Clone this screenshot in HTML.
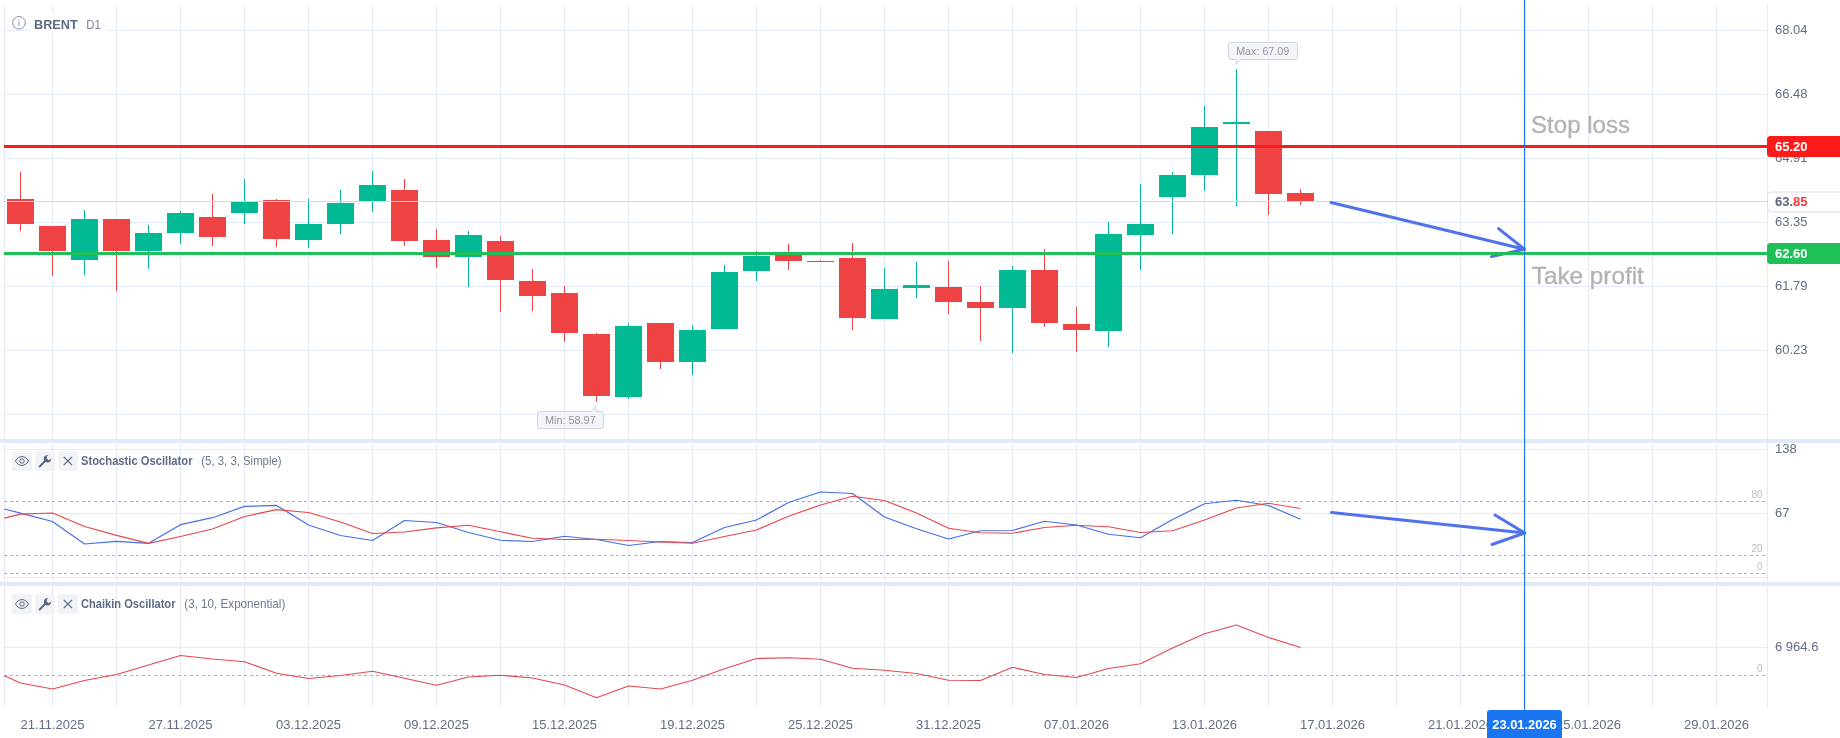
<!DOCTYPE html>
<html lang="en"><head><meta charset="utf-8"><title>BRENT D1</title>
<style>html,body{margin:0;padding:0;background:#fff;overflow:hidden}svg{display:block;will-change:transform}</style></head>
<body>
<svg width="1840" height="738" viewBox="0 0 1840 738" font-family='"Liberation Sans", Arial, sans-serif'>
<rect width="1840" height="738" fill="#fff"/>
<g fill="#e3ebfb">
<rect x="4" y="5" width="1" height="703"/>
<rect x="52" y="5" width="1" height="703"/>
<rect x="116" y="5" width="1" height="703"/>
<rect x="180" y="5" width="1" height="703"/>
<rect x="244" y="5" width="1" height="703"/>
<rect x="308" y="5" width="1" height="703"/>
<rect x="372" y="5" width="1" height="703"/>
<rect x="436" y="5" width="1" height="703"/>
<rect x="500" y="5" width="1" height="703"/>
<rect x="564" y="5" width="1" height="703"/>
<rect x="628" y="5" width="1" height="703"/>
<rect x="692" y="5" width="1" height="703"/>
<rect x="756" y="5" width="1" height="703"/>
<rect x="820" y="5" width="1" height="703"/>
<rect x="884" y="5" width="1" height="703"/>
<rect x="948" y="5" width="1" height="703"/>
<rect x="1012" y="5" width="1" height="703"/>
<rect x="1076" y="5" width="1" height="703"/>
<rect x="1140" y="5" width="1" height="703"/>
<rect x="1204" y="5" width="1" height="703"/>
<rect x="1268" y="5" width="1" height="703"/>
<rect x="1332" y="5" width="1" height="703"/>
<rect x="1396" y="5" width="1" height="703"/>
<rect x="1460" y="5" width="1" height="703"/>
<rect x="1524" y="5" width="1" height="703"/>
<rect x="1588" y="5" width="1" height="703"/>
<rect x="1652" y="5" width="1" height="703"/>
<rect x="1716" y="5" width="1" height="703"/>
<rect x="1767" y="5" width="1" height="703"/>
<rect x="4" y="30" width="1763" height="1"/>
<rect x="4" y="94" width="1763" height="1"/>
<rect x="4" y="158" width="1763" height="1"/>
<rect x="4" y="222" width="1763" height="1"/>
<rect x="4" y="286" width="1763" height="1"/>
<rect x="4" y="350" width="1763" height="1"/>
<rect x="4" y="414" width="1763" height="1"/>
<rect x="4" y="449" width="1763" height="1"/>
<rect x="4" y="513" width="1763" height="1"/>
<rect x="4" y="577" width="1763" height="1"/>
<rect x="4" y="647" width="1763" height="1"/>
</g>
<rect x="30" y="13" width="77" height="20" fill="#fff" opacity="0.92"/>
<rect x="0" y="439" width="1840" height="4" fill="#e1eaf9"/>
<rect x="0" y="582" width="1840" height="4" fill="#e1eaf9"/>
<g fill="#616d83" font-size="13">
<text x="1775" y="34.1">68.04</text>
<text x="1775" y="98.1">66.48</text>
<text x="1775" y="162.1">64.91</text>
<text x="1775" y="226.1">63.35</text>
<text x="1775" y="290.1">61.79</text>
<text x="1775" y="354.1">60.23</text>
<text x="1775" y="453.1">138</text>
<text x="1775" y="517.1">67</text>
<text x="1775" y="651.1">6 964.6</text>
</g>
<g fill="#616d83" font-size="13" text-anchor="middle">
<text x="52.5" y="729">21.11.2025</text>
<text x="180.5" y="729">27.11.2025</text>
<text x="308.5" y="729">03.12.2025</text>
<text x="436.5" y="729">09.12.2025</text>
<text x="564.5" y="729">15.12.2025</text>
<text x="692.5" y="729">19.12.2025</text>
<text x="820.5" y="729">25.12.2025</text>
<text x="948.5" y="729">31.12.2025</text>
<text x="1076.5" y="729">07.01.2026</text>
<text x="1204.5" y="729">13.01.2026</text>
<text x="1332.5" y="729">17.01.2026</text>
<text x="1460.5" y="729">21.01.2026</text>
<text x="1588.5" y="729">25.01.2026</text>
<text x="1716.5" y="729">29.01.2026</text>
</g>
<g stroke="#adadad" stroke-width="1" stroke-dasharray="3 3" fill="none">
<path d="M4 501.5H1765"/>
<path d="M4 555.5H1765"/>
<path d="M4 573.5H1765"/>
<path d="M4 675.5H1765"/>
</g>
<g fill="#b9bdc9" font-size="10" text-anchor="end">
<text x="1762.5" y="498.20000000000005">80</text>
<text x="1762.5" y="552.2">20</text>
<text x="1762.5" y="570.2">0</text>
<text x="1762.5" y="672.0">0</text>
</g>
<g>
<rect x="20.0" y="172" width="1" height="59" fill="#ef4343"/>
<rect x="7.0" y="199" width="27" height="25" fill="#ef4343"/>
<rect x="52.0" y="226" width="1" height="50" fill="#ef4343"/>
<rect x="39.0" y="226" width="27" height="25" fill="#ef4343"/>
<rect x="84.0" y="210" width="1" height="65" fill="#00ba95"/>
<rect x="71.0" y="219" width="27" height="41" fill="#00ba95"/>
<rect x="116.0" y="219" width="1" height="72" fill="#ef4343"/>
<rect x="103.0" y="219" width="27" height="32" fill="#ef4343"/>
<rect x="148.0" y="225" width="1" height="44" fill="#00ba95"/>
<rect x="135.0" y="233" width="27" height="18" fill="#00ba95"/>
<rect x="180.0" y="211" width="1" height="33" fill="#00ba95"/>
<rect x="167.0" y="213" width="27" height="20" fill="#00ba95"/>
<rect x="212.0" y="194" width="1" height="52" fill="#ef4343"/>
<rect x="199.0" y="217" width="27" height="20" fill="#ef4343"/>
<rect x="244.0" y="179" width="1" height="45" fill="#00ba95"/>
<rect x="231.0" y="202" width="27" height="11" fill="#00ba95"/>
<rect x="276.0" y="199" width="1" height="48" fill="#ef4343"/>
<rect x="263.0" y="200" width="27" height="39" fill="#ef4343"/>
<rect x="308.0" y="199" width="1" height="49" fill="#00ba95"/>
<rect x="295.0" y="224" width="27" height="16" fill="#00ba95"/>
<rect x="340.0" y="190" width="1" height="44" fill="#00ba95"/>
<rect x="327.0" y="203" width="27" height="21" fill="#00ba95"/>
<rect x="372.0" y="171" width="1" height="41" fill="#00ba95"/>
<rect x="359.0" y="185" width="27" height="16" fill="#00ba95"/>
<rect x="404.0" y="179" width="1" height="67" fill="#ef4343"/>
<rect x="391.0" y="190" width="27" height="51" fill="#ef4343"/>
<rect x="436.0" y="229" width="1" height="39" fill="#ef4343"/>
<rect x="423.0" y="240" width="27" height="17" fill="#ef4343"/>
<rect x="468.0" y="231" width="1" height="56" fill="#00ba95"/>
<rect x="455.0" y="235" width="27" height="22" fill="#00ba95"/>
<rect x="500.0" y="236" width="1" height="76" fill="#ef4343"/>
<rect x="487.0" y="241" width="27" height="39" fill="#ef4343"/>
<rect x="532.0" y="269" width="1" height="42" fill="#ef4343"/>
<rect x="519.0" y="281" width="27" height="15" fill="#ef4343"/>
<rect x="564.0" y="286" width="1" height="56" fill="#ef4343"/>
<rect x="551.0" y="293" width="27" height="40" fill="#ef4343"/>
<rect x="596.0" y="333" width="1" height="69" fill="#ef4343"/>
<rect x="583.0" y="334" width="27" height="62" fill="#ef4343"/>
<rect x="628.0" y="323" width="1" height="76" fill="#00ba95"/>
<rect x="615.0" y="326" width="27" height="71" fill="#00ba95"/>
<rect x="660.0" y="323" width="1" height="46" fill="#ef4343"/>
<rect x="647.0" y="323" width="27" height="39" fill="#ef4343"/>
<rect x="692.0" y="325" width="1" height="50" fill="#00ba95"/>
<rect x="679.0" y="330" width="27" height="32" fill="#00ba95"/>
<rect x="724.0" y="265" width="1" height="64" fill="#00ba95"/>
<rect x="711.0" y="272" width="27" height="57" fill="#00ba95"/>
<rect x="756.0" y="251" width="1" height="30" fill="#00ba95"/>
<rect x="743.0" y="256" width="27" height="15" fill="#00ba95"/>
<rect x="788.0" y="244" width="1" height="26" fill="#ef4343"/>
<rect x="775.0" y="253" width="27" height="8" fill="#ef4343"/>
<rect x="820.0" y="260" width="1" height="2" fill="#ef4343"/>
<rect x="807.0" y="261" width="27" height="1" fill="#ef4343"/>
<rect x="852.0" y="243" width="1" height="87" fill="#ef4343"/>
<rect x="839.0" y="258" width="27" height="60" fill="#ef4343"/>
<rect x="884.0" y="268" width="1" height="51" fill="#00ba95"/>
<rect x="871.0" y="289" width="27" height="30" fill="#00ba95"/>
<rect x="916.0" y="262" width="1" height="36" fill="#00ba95"/>
<rect x="903.0" y="285" width="27" height="3" fill="#00ba95"/>
<rect x="948.0" y="261" width="1" height="53" fill="#ef4343"/>
<rect x="935.0" y="287" width="27" height="15" fill="#ef4343"/>
<rect x="980.0" y="286" width="1" height="55" fill="#ef4343"/>
<rect x="967.0" y="302" width="27" height="6" fill="#ef4343"/>
<rect x="1012.0" y="266" width="1" height="87" fill="#00ba95"/>
<rect x="999.0" y="270" width="27" height="38" fill="#00ba95"/>
<rect x="1044.0" y="249" width="1" height="78" fill="#ef4343"/>
<rect x="1031.0" y="270" width="27" height="53" fill="#ef4343"/>
<rect x="1076.0" y="307" width="1" height="45" fill="#ef4343"/>
<rect x="1063.0" y="324" width="27" height="6" fill="#ef4343"/>
<rect x="1108.0" y="222" width="1" height="125" fill="#00ba95"/>
<rect x="1095.0" y="234" width="27" height="97" fill="#00ba95"/>
<rect x="1140.0" y="184" width="1" height="86" fill="#00ba95"/>
<rect x="1127.0" y="224" width="27" height="11" fill="#00ba95"/>
<rect x="1172.0" y="172" width="1" height="62" fill="#00ba95"/>
<rect x="1159.0" y="175" width="27" height="22" fill="#00ba95"/>
<rect x="1204.0" y="106" width="1" height="85" fill="#00ba95"/>
<rect x="1191.0" y="127" width="27" height="48" fill="#00ba95"/>
<rect x="1236.0" y="69" width="1" height="137" fill="#00ba95"/>
<rect x="1223.0" y="122" width="27" height="2" fill="#00ba95"/>
<rect x="1268.0" y="131" width="1" height="84" fill="#ef4343"/>
<rect x="1255.0" y="131" width="27" height="63" fill="#ef4343"/>
<rect x="1300.0" y="189" width="1" height="16" fill="#ef4343"/>
<rect x="1287.0" y="193" width="27" height="8" fill="#ef4343"/>
</g>
<rect x="4" y="201" width="1763" height="1" fill="#d3d8e4"/>
<g stroke="#5272ea" stroke-width="3" fill="none" stroke-linecap="round" stroke-linejoin="round">
<path d="M1331 202.5L1524.5 249.2M1498.5 228.6L1524.5 249.2L1491.5 256.6"/>
<path d="M1331.5 512.6L1524.8 533M1495 515L1524.8 533L1492 544.5"/>
</g>
<rect x="4" y="145" width="1765" height="3" fill="#fd1a1a"/>
<rect x="4" y="252" width="1765" height="3" fill="#1fc057"/>
<polyline points="4.3,509 20.5,513.2 52.5,521.5 84.5,544 116.5,541.3 148.5,543.3 180.5,524.7 212.5,517.7 244.5,506.4 276.5,505.4 308.5,525 340.5,535.5 372.5,540.5 404.5,520.5 436.5,522.5 468.5,532.5 500.5,540.25 532.5,541.5 564.5,536.25 596.5,539.5 628.5,545.5 660.5,541.5 692.5,542.5 724.5,527.5 756.5,520 788.5,502.5 820.5,492 852.5,493.5 884.5,517 916.5,528.75 948.5,539 980.5,530.75 1012.5,530.5 1044.5,521.25 1076.5,525 1108.5,534.25 1140.5,537.75 1172.5,519.5 1204.5,503.75 1236.5,500.25 1268.5,505.5 1300.5,519.25" fill="none" stroke="#456fe6" stroke-width="1.2" stroke-linejoin="round"/>
<polyline points="4.3,518.2 20.5,514.2 52.5,513 84.5,526.5 116.5,535.3 148.5,543.3 180.5,536.5 212.5,529 244.5,516.5 276.5,509.7 308.5,512.5 340.5,522 372.5,533.5 404.5,532 436.5,527.8 468.5,525.25 500.5,531.75 532.5,538.25 564.5,539.5 596.5,539.25 628.5,540.5 660.5,542 692.5,543.25 724.5,536.5 756.5,530 788.5,516.25 820.5,505 852.5,496.25 884.5,500.5 916.5,513 948.5,528.25 980.5,532.75 1012.5,533.25 1044.5,527.5 1076.5,525.25 1108.5,526.75 1140.5,532.5 1172.5,530.75 1204.5,520 1236.5,508 1268.5,503.25 1300.5,508.5" fill="none" stroke="#e5484d" stroke-width="1.2" stroke-linejoin="round"/>
<polyline points="4.3,675.75 20.5,683 52.5,689 84.5,680.5 116.5,674.5 148.5,665 180.5,655.5 212.5,659 244.5,661.75 276.5,673.25 308.5,678.5 340.5,675.5 372.5,671.25 404.5,678.25 436.5,685.25 468.5,677 500.5,675.25 532.5,678 564.5,685 596.5,697.75 628.5,686 660.5,689 692.5,680.25 724.5,668.75 756.5,658.5 788.5,657.75 820.5,659.25 852.5,668.25 884.5,670.25 916.5,673.5 948.5,680.25 980.5,680.5 1012.5,667.25 1044.5,674.5 1076.5,677.5 1108.5,668.5 1140.5,663.75 1172.5,648 1204.5,633.75 1236.5,625 1268.5,637.5 1300.5,647.5" fill="none" stroke="#e5484d" stroke-width="1.2" stroke-linejoin="round"/>
<rect x="1524" y="0" width="1.15" height="738" fill="#1f76f0"/>
<g fill="#b3b3b6" stroke="#b3b3b6" stroke-width="0.35" font-size="24">
<text x="1531" y="133" textLength="99" lengthAdjust="spacingAndGlyphs">Stop loss</text>
<text x="1531.8" y="284" textLength="112" lengthAdjust="spacingAndGlyphs">Take profit</text>
</g>
<path d="M1840 136H1770.5a3.5 3.5 0 0 0-3.5 3.5v14a3.5 3.5 0 0 0 3.5 3.5H1840z" fill="#fd1a1a"/>
<text x="1775" y="151" font-size="13" font-weight="bold" fill="#fff">65.20</text>
<path d="M1840 243H1770.5a3.5 3.5 0 0 0-3.5 3.5v14a3.5 3.5 0 0 0 3.5 3.5H1840z" fill="#1fc057"/>
<text x="1775" y="258" font-size="13" font-weight="bold" fill="#fff">62.60</text>
<path d="M1841 192H1771.5a4 4 0 0 0-4 4v12a4 4 0 0 0 4 4H1841z" fill="#fff" stroke="#d9ddea" stroke-width="1"/>
<text x="1775" y="205.9" font-size="13" font-weight="bold" fill="#5b667c">63.<tspan fill="#ef3a3a">85</tspan></text>
<g font-size="11" fill="#8f959f">
<path d="M1231 42.5h64a2.5 2.5 0 0 1 2.5 2.5v12a2.5 2.5 0 0 1-2.5 2.5h-54l-4.8 5v-5h-5.2a2.5 2.5 0 0 1-2.5-2.5v-12a2.5 2.5 0 0 1 2.5-2.5z" fill="#eff1f7" fill-opacity="0.75" stroke="#cfd5e4" stroke-width="1"/>
<text x="1236.2" y="54.8" textLength="53" lengthAdjust="spacingAndGlyphs">Max: 67.09</text>
<path d="M540 411.5h51l4.8-5.3v5.3h5.2a2.5 2.5 0 0 1 2.5 2.5v12a2.5 2.5 0 0 1-2.5 2.5h-61a2.5 2.5 0 0 1-2.5-2.5v-12a2.5 2.5 0 0 1 2.5-2.5z" fill="#eff1f7" fill-opacity="0.75" stroke="#cfd5e4" stroke-width="1"/>
<text x="545" y="423.6" textLength="50.7" lengthAdjust="spacingAndGlyphs">Min: 58.97</text>
</g>
<circle cx="19" cy="22.8" r="6.3" fill="none" stroke="#8791a3" stroke-width="1"/>
<rect x="18.5" y="21.5" width="1" height="4.5" fill="#8791a3"/><rect x="18.5" y="19.3" width="1" height="1.1" fill="#8791a3"/>
<text x="34" y="28.8" font-size="13" font-weight="bold" fill="#5d6b85" textLength="43.8" lengthAdjust="spacingAndGlyphs">BRENT</text>
<text x="86.3" y="28.8" font-size="13" fill="#7b859a" textLength="14.6" lengthAdjust="spacingAndGlyphs">D1</text>
<rect x="12" y="451" width="20" height="20" rx="2.2" fill="#f2f3f7"/>
<rect x="35" y="451" width="20" height="20" rx="2.2" fill="#f2f3f7"/>
<rect x="58" y="451" width="20" height="20" rx="2.2" fill="#f2f3f7"/>
<path d="M15.4 461C19.2 455.1 24.8 455.1 28.6 461C24.8 466.9 19.2 466.9 15.4 461z" fill="none" stroke="#55647f" stroke-width="1" stroke-linejoin="round"/>
<circle cx="22" cy="461" r="2.2" fill="none" stroke="#55647f" stroke-width="1"/>
<path d="M39.6 466.6L45.6 460.4" stroke="#55647f" stroke-width="2" stroke-linecap="round" fill="none"/>
<path d="M48.6 455.2a3.7 3.7 0 1 0 2.6 3.4l-2.4 1.6l-2.2-1.6l0.4-2.6z" fill="#55647f"/>
<path d="M63.7 456.8L72.1 465.2M72.1 456.8L63.7 465.2" stroke="#55647f" stroke-width="1.2" fill="none"/>
<text x="81" y="465.4" font-size="13" font-weight="bold" fill="#5d6b85" textLength="111.5" lengthAdjust="spacingAndGlyphs">Stochastic Oscillator</text>
<text x="201.3" y="465.4" font-size="13" fill="#6c7990" textLength="80.3" lengthAdjust="spacingAndGlyphs">(5, 3, 3, Simple)</text>
<rect x="12" y="594" width="20" height="20" rx="2.2" fill="#f2f3f7"/>
<rect x="35" y="594" width="20" height="20" rx="2.2" fill="#f2f3f7"/>
<rect x="58" y="594" width="20" height="20" rx="2.2" fill="#f2f3f7"/>
<path d="M15.4 604C19.2 598.1 24.8 598.1 28.6 604C24.8 609.9 19.2 609.9 15.4 604z" fill="none" stroke="#55647f" stroke-width="1" stroke-linejoin="round"/>
<circle cx="22" cy="604" r="2.2" fill="none" stroke="#55647f" stroke-width="1"/>
<path d="M39.6 609.6L45.6 603.4" stroke="#55647f" stroke-width="2" stroke-linecap="round" fill="none"/>
<path d="M48.6 598.2a3.7 3.7 0 1 0 2.6 3.4l-2.4 1.6l-2.2-1.6l0.4-2.6z" fill="#55647f"/>
<path d="M63.7 599.8L72.1 608.2M72.1 599.8L63.7 608.2" stroke="#55647f" stroke-width="1.2" fill="none"/>
<text x="81" y="608.4" font-size="13" font-weight="bold" fill="#5d6b85" textLength="94.5" lengthAdjust="spacingAndGlyphs">Chaikin Oscillator</text>
<text x="184.3" y="608.4" font-size="13" fill="#6c7990" textLength="101" lengthAdjust="spacingAndGlyphs">(3, 10, Exponential)</text>
<path d="M1487 738V713a3 3 0 0 1 3-3h69a3 3 0 0 1 3 3V738z" fill="#1a75f2"/>
<text x="1524.5" y="729" font-size="13" font-weight="bold" fill="#fff" text-anchor="middle" textLength="64.5" lengthAdjust="spacingAndGlyphs">23.01.2026</text>
</svg>
</body></html>
